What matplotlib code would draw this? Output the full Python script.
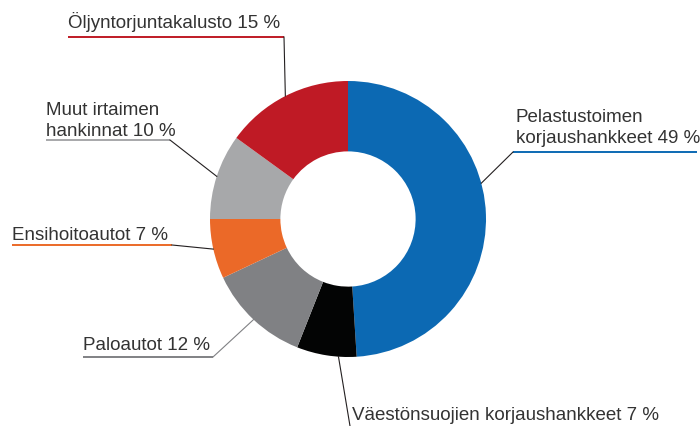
import matplotlib
matplotlib.use("Agg")
import matplotlib.pyplot as plt
import numpy as np

# data
labels = ['Pelastustoimen\nkorjaushankkeet 49 %', 'Väestönsuojien korjaushankkeet 7 %',
          'Paloautot 12 %', 'Ensihoitoautot 7 %', 'Muut irtaimen\nhankinnat 10 %',
          'Öljyntorjuntakalusto 15 %']
shares = [49, 7, 12, 7, 10, 15]
colors = ['#0C69B3', '#030404', '#808184', '#EB6928', '#A7A8AA', '#BF1A25']

W, H = 700, 427
plt.rcParams['font.family'] = ['Liberation Sans', 'DejaVu Sans']
fig = plt.figure(figsize=(7, 4.27), dpi=100)
ax = fig.add_axes([0, 0, 1, 1])

cx, cy, R = 348, H - 220, 138
wedges, _ = ax.pie(shares, colors=colors, startangle=90, counterclock=False,
                   center=(cx, cy), radius=R, frame=True,
                   wedgeprops=dict(width=R * 0.51, linewidth=0))
ax.set_xlim(0, W)
ax.set_ylim(0, H)
ax.set_aspect('equal')
ax.axis('off')

txt = '#333333'

# label layout (pixels from top-left): text pos, underline, knee, anchor fraction along wedge
layout = [
    dict(tx=516, ty=143, uy=153, ux=(513, 697), knee=513, frac=0.575, lc='#231F20'),
    dict(tx=352, ty=420, uy=None, ux=None, knee=(350, 427), frac=0.7, lc='#231F20'),
    dict(tx=83, ty=350, uy=358, ux=(83, 213), knee=213, frac=0.5, lc='#808184'),
    dict(tx=12, ty=240, uy=246, ux=(12, 172), knee=172, frac=0.5, lc='#231F20'),
    dict(tx=46, ty=136, uy=141, ux=(46, 170), knee=170, frac=0.5, lc='#231F20'),
    dict(tx=68, ty=28, uy=38, ux=(68, 284), knee=284, frac=0.5, lc='#231F20'),
]

for w, lab, col, lo in zip(wedges, labels, colors, layout):
    ang = np.deg2rad(w.theta1 + lo['frac'] * (w.theta2 - w.theta1))
    px, py = cx + R * np.cos(ang), cy + R * np.sin(ang)
    ax.text(lo['tx'], H - lo['ty'], lab, fontsize=13.5, color=txt,
            ha='left', va='baseline', linespacing=1.3)
    if lo['uy'] is None:
        kx, ky = lo['knee']
        ax.plot([px, kx], [py, H - ky], color=lo['lc'], lw=0.8)
    else:
        ax.plot(lo['ux'], [H - lo['uy']] * 2, color=col, lw=1.4, solid_capstyle='butt')
        ax.plot([px, lo['knee']], [py, H - lo['uy']], color=lo['lc'], lw=0.8)

fig.savefig('out.png', dpi=100)
